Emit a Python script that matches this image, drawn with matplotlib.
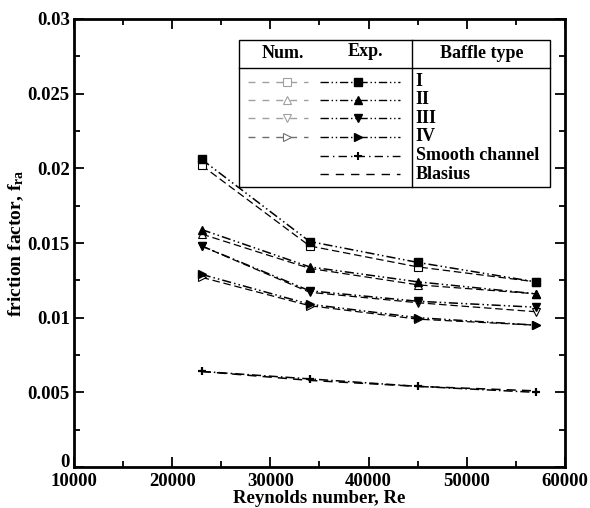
import matplotlib
matplotlib.use("Agg")
import matplotlib.pyplot as plt
from matplotlib.lines import Line2D
from matplotlib.ticker import MultipleLocator

plt.rcParams['font.family'] = ['Liberation Serif', 'DejaVu Serif']
plt.rcParams['font.weight'] = 'bold'
plt.rcParams['mathtext.fontset'] = 'custom'
plt.rcParams['mathtext.rm'] = 'Liberation Serif:bold'
plt.rcParams['mathtext.it'] = 'Liberation Serif:bold'

# ---- data ----
re = [23000, 34000, 45000, 57000]
num_I = [0.0202, 0.0148, 0.0134, 0.0124]
exp_I = [0.0206, 0.0151, 0.0137, 0.0124]
num_II = [0.0156, 0.0133, 0.0122, 0.0116]
exp_II = [0.0159, 0.0134, 0.0124, 0.0116]
num_III = [0.0148, 0.0117, 0.0110, 0.0104]
exp_III = [0.0148, 0.0118, 0.0111, 0.0107]
num_IV = [0.0127, 0.0108, 0.0099, 0.0095]
exp_IV = [0.0129, 0.0109, 0.0100, 0.0095]
smooth = [0.0064, 0.0059, 0.0054, 0.0050]
blasius = [0.0064, 0.0058, 0.0054, 0.0051]

baffle_labels = ['I', 'II', 'III', 'IV']
num_series = [num_I, num_II, num_III, num_IV]
exp_series = [exp_I, exp_II, exp_III, exp_IV]
markers = ['s', '^', 'v', '>']
num_legend_colors = ['#a0a0a0', '#a0a0a0', '#a0a0a0', '#6e6e6e']

fig = plt.figure(figsize=(5.90, 5.08), dpi=100)
ax = fig.add_axes([0.1254, 0.0807, 0.8322, 0.8819])

exp_ls = (0, (6, 2, 1, 2, 1, 2))
num_ls = (0, (6, 3))
MS = 6

for ys, m in zip(num_series, markers):
    ax.plot(re, ys, linestyle=num_ls, color='black', lw=0.9,
            marker=m, markersize=MS, markerfacecolor='white',
            markeredgecolor='black', markeredgewidth=0.8, zorder=2)
for ys, m in zip(exp_series, markers):
    ax.plot(re, ys, linestyle=exp_ls, color='black', lw=1.1,
            marker=m, markersize=MS, markerfacecolor='black',
            markeredgecolor='black', zorder=3)

ax.plot(re, blasius, linestyle=(0, (6, 4)), color='black', lw=1.1, zorder=2)
ax.plot(re, smooth, linestyle=(0, (6, 2, 1, 2)), color='black', lw=1.1,
        marker='+', markersize=6, markeredgewidth=1.6, zorder=3)

ax.set_xlim(10000, 60000)
ax.set_ylim(0, 0.03)
ax.xaxis.set_minor_locator(MultipleLocator(5000))
ax.yaxis.set_minor_locator(MultipleLocator(0.0025))
ax.set_xticks([10000, 20000, 30000, 40000, 50000, 60000])
ax.set_xticklabels(['10000', '20000', '30000', '40000', '50000', '60000'])
ax.set_yticks([0, 0.005, 0.01, 0.015, 0.02, 0.025, 0.03])
ax.set_yticklabels(['0', '0.005', '0.01', '0.015', '0.02', '0.025', '0.03'])
ax.tick_params(which='both', direction='in', top=True, right=True,
               labelsize=13.5, width=1.3)
ax.tick_params(which='major', length=7)
ax.tick_params(axis='x', which='major', pad=4)
ax.tick_params(axis='y', which='major', pad=3)
ax.tick_params(which='minor', length=4)
for lab in ax.get_xticklabels() + ax.get_yticklabels():
    lab.set_fontweight('bold')
ax.get_yticklabels()[0].set_verticalalignment('baseline')
for s in ax.spines.values():
    s.set_linewidth(2)

ax.set_xlabel('Reynolds number, Re', fontsize=13.5, fontweight='bold', labelpad=0)
ax.set_ylabel(r'friction factor, f$_{\mathrm{ra}}$', fontsize=14,
              fontweight='bold', labelpad=1)

# ---- custom table legend ----
tr = ax.transAxes
L, R, T, B = 0.3367, 0.9695, 0.9531, 0.6257
HY, DX = 0.8900, 0.689
box = plt.Rectangle((L, B), R - L, T - B, transform=tr, fill=True,
                    facecolor='white', edgecolor='black', lw=1.0, zorder=5)
ax.add_patch(box)
ax.add_line(Line2D([L, R], [HY, HY], transform=tr, color='black', lw=1.0, zorder=6))
ax.add_line(Line2D([DX, DX], [B, T], transform=tr, color='black', lw=1.0, zorder=6))
hdr_y = 0.9234
fs = 13
ax.text(0.4257, hdr_y, 'Num.', transform=tr, ha='center', va='center',
        fontsize=fs, fontweight='bold', zorder=7)
ax.text(0.5927, hdr_y + 0.005, 'Exp.', transform=tr, ha='center', va='center',
        fontsize=fs, fontweight='bold', zorder=7)
ax.text(0.830, hdr_y, 'Baffle type', transform=tr, ha='center', va='center',
        fontsize=fs, fontweight='bold', zorder=7)

row_y = [0.860, 0.8192, 0.7783, 0.7377, 0.6942, 0.654]
txt_x = 0.696
nx0, nx1, nxm = 0.3544, 0.4766, 0.4332
ex0, ex1, exm = 0.501, 0.664, 0.578
LMS = 6
for i, (lab, m) in enumerate(zip(baffle_labels, markers)):
    y = row_y[i]
    c = num_legend_colors[i]
    ax.add_line(Line2D([nx0, nx1], [y, y], transform=tr, color=c, lw=1.0,
                       linestyle=(0, (5, 5)), zorder=7))
    ax.add_line(Line2D([nxm], [y], transform=tr, color=c, marker=m,
                       markersize=LMS, markerfacecolor='white',
                       markeredgecolor=c, markeredgewidth=0.8, zorder=8))
    ax.add_line(Line2D([ex0, ex1], [y, y], transform=tr, color='black', lw=1.0,
                       linestyle=exp_ls, zorder=7))
    ax.add_line(Line2D([exm], [y], transform=tr, color='black', marker=m,
                       markersize=LMS, zorder=8))
    ax.text(txt_x, y, lab, transform=tr, ha='left', va='center',
            fontsize=fs, fontweight='bold', zorder=7)

y = row_y[4]
ax.add_line(Line2D([ex0, ex1], [y, y], transform=tr, color='black', lw=1.0,
                   linestyle=(0, (6, 3, 1, 3)), zorder=7))
ax.add_line(Line2D([exm], [y], transform=tr, color='black', marker='+',
                   markersize=LMS, markeredgewidth=1.5, zorder=8))
ax.text(txt_x, y, 'Smooth channel', transform=tr, ha='left', va='center',
        fontsize=fs, fontweight='bold', zorder=7)
y = row_y[5]
ax.add_line(Line2D([ex0, ex1], [y, y], transform=tr, color='black', lw=1.0,
                   linestyle=(0, (6, 5)), zorder=7))
ax.text(txt_x, y, 'Blasius', transform=tr, ha='left', va='center',
        fontsize=fs, fontweight='bold', zorder=7)

fig.savefig('out.png', dpi=100)
